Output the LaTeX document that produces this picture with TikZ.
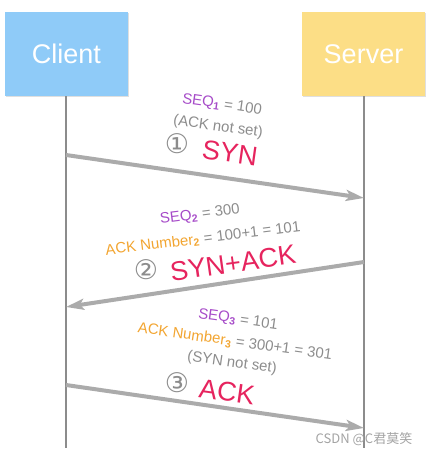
\documentclass[tikz,border=0pt]{standalone}
\usepackage{fontspec}
\setmainfont{Liberation Sans}
\newfontfamily\symfont{DejaVu Sans}
\newfontfamily\cjkfont{Noto Sans CJK SC}
\usetikzlibrary{arrows.meta,shadows}

\definecolor{clientblue}{HTML}{8FCBF8}
\definecolor{serveryellow}{HTML}{FCDE86}
\definecolor{seqpurple}{HTML}{A64BC8}
\definecolor{ackorange}{HTML}{F2A531}
\definecolor{flagred}{HTML}{E6245E}
\definecolor{txtgray}{HTML}{8C8C8C}
\definecolor{linegray}{HTML}{ABABAB}

\tikzset{
  host/.style={minimum width=123pt, minimum height=84pt, text=white,
    font=\fontsize{27}{30}\selectfont,
    drop shadow={opacity=0.25, shadow xshift=0.8pt, shadow yshift=-1.2pt}},
  lifeline/.style={draw=txtgray, line width=1.2pt},
  msg/.style={draw=linegray, line width=4pt,
    -{Stealth[length=18pt, width=11pt, inset=4pt]}},
  note/.style={text=txtgray, inner sep=0pt, font=\fontsize{15}{17}\selectfont},
  flag/.style={text=flagred, inner sep=0pt, font=\fontsize{27}{30}\selectfont},
  stepnum/.style={text=txtgray, inner sep=0pt, font=\symfont\fontsize{27}{30}\selectfont},
}

\begin{document}
\begin{tikzpicture}[x=1pt,y=-1pt]
  \useasboundingbox (0,0) rectangle (433,456);

  % Hosts
  \node[host, fill=clientblue] (client) at (66.5,54) {Client};
  \node[host, fill=serveryellow] (server) at (363.5,54) {Server};

  % Lifelines
  \coordinate (clientend) at (66,448);
  \coordinate (serverend) at (364,448);
  \draw[lifeline] (client.south -| clientend) -- (clientend);
  \draw[lifeline] (server.south -| serverend) -- (serverend);

  % Message points
  \coordinate (c1) at (66,155);
  \coordinate (s1) at (364,198);
  \coordinate (s2) at (364,262);
  \coordinate (c2) at (66,307);
  \coordinate (c3) at (66,385);
  \coordinate (s3) at (364,428);

  % Step 1: SYN
  \node[note, rotate=-8] (seqone) at (222,105)
    {\textcolor{seqpurple}{SEQ\textsubscript{\textbf{1}}} = 100};
  \node[note, rotate=-8] (noack) at (218,127) {(ACK not set)};
  \node[stepnum] (one) at (177,144) {①};
  \node[flag, rotate=-8] (syn) at (230,153) {SYN};
  \draw[msg] (c1) -- (s1);

  % Step 2: SYN+ACK
  \node[note, rotate=7] (seqtwo) at (200,215)
    {\textcolor{seqpurple}{SEQ\textsubscript{\textbf{2}}} = 300};
  \node[note, rotate=7] (acktwo) at (203,239)
    {\textcolor{ackorange}{ACK Number\textsubscript{\textbf{2}}} = 100+1 = 101};
  \node[stepnum] (two) at (146,270) {②};
  \node[flag, rotate=8] (synack) at (233,263) {SYN+ACK};
  \draw[msg] (s2) -- (c2);

  % Step 3: ACK
  \node[note, rotate=-8] (seqthree) at (238,320)
    {\textcolor{seqpurple}{SEQ\textsubscript{\textbf{3}}} = 101};
  \node[note, rotate=-8] (ackthree) at (235,342)
    {\textcolor{ackorange}{ACK Number\textsubscript{\textbf{3}}} = 300+1 = 301};
  \node[note, rotate=-8] (nosyn) at (232,363) {(SYN not set)};
  \node[stepnum] (three) at (177,383) {③};
  \node[flag, rotate=-8] (ack) at (227,392) {ACK};
  \draw[msg] (c3) -- (s3);

  % Watermark
  \node[text=txtgray!80, inner sep=0pt, font=\cjkfont\fontsize{13}{15}\selectfont]
    (mark) at (364,439) {CSDN @C君莫笑};
\end{tikzpicture}
\end{document}
